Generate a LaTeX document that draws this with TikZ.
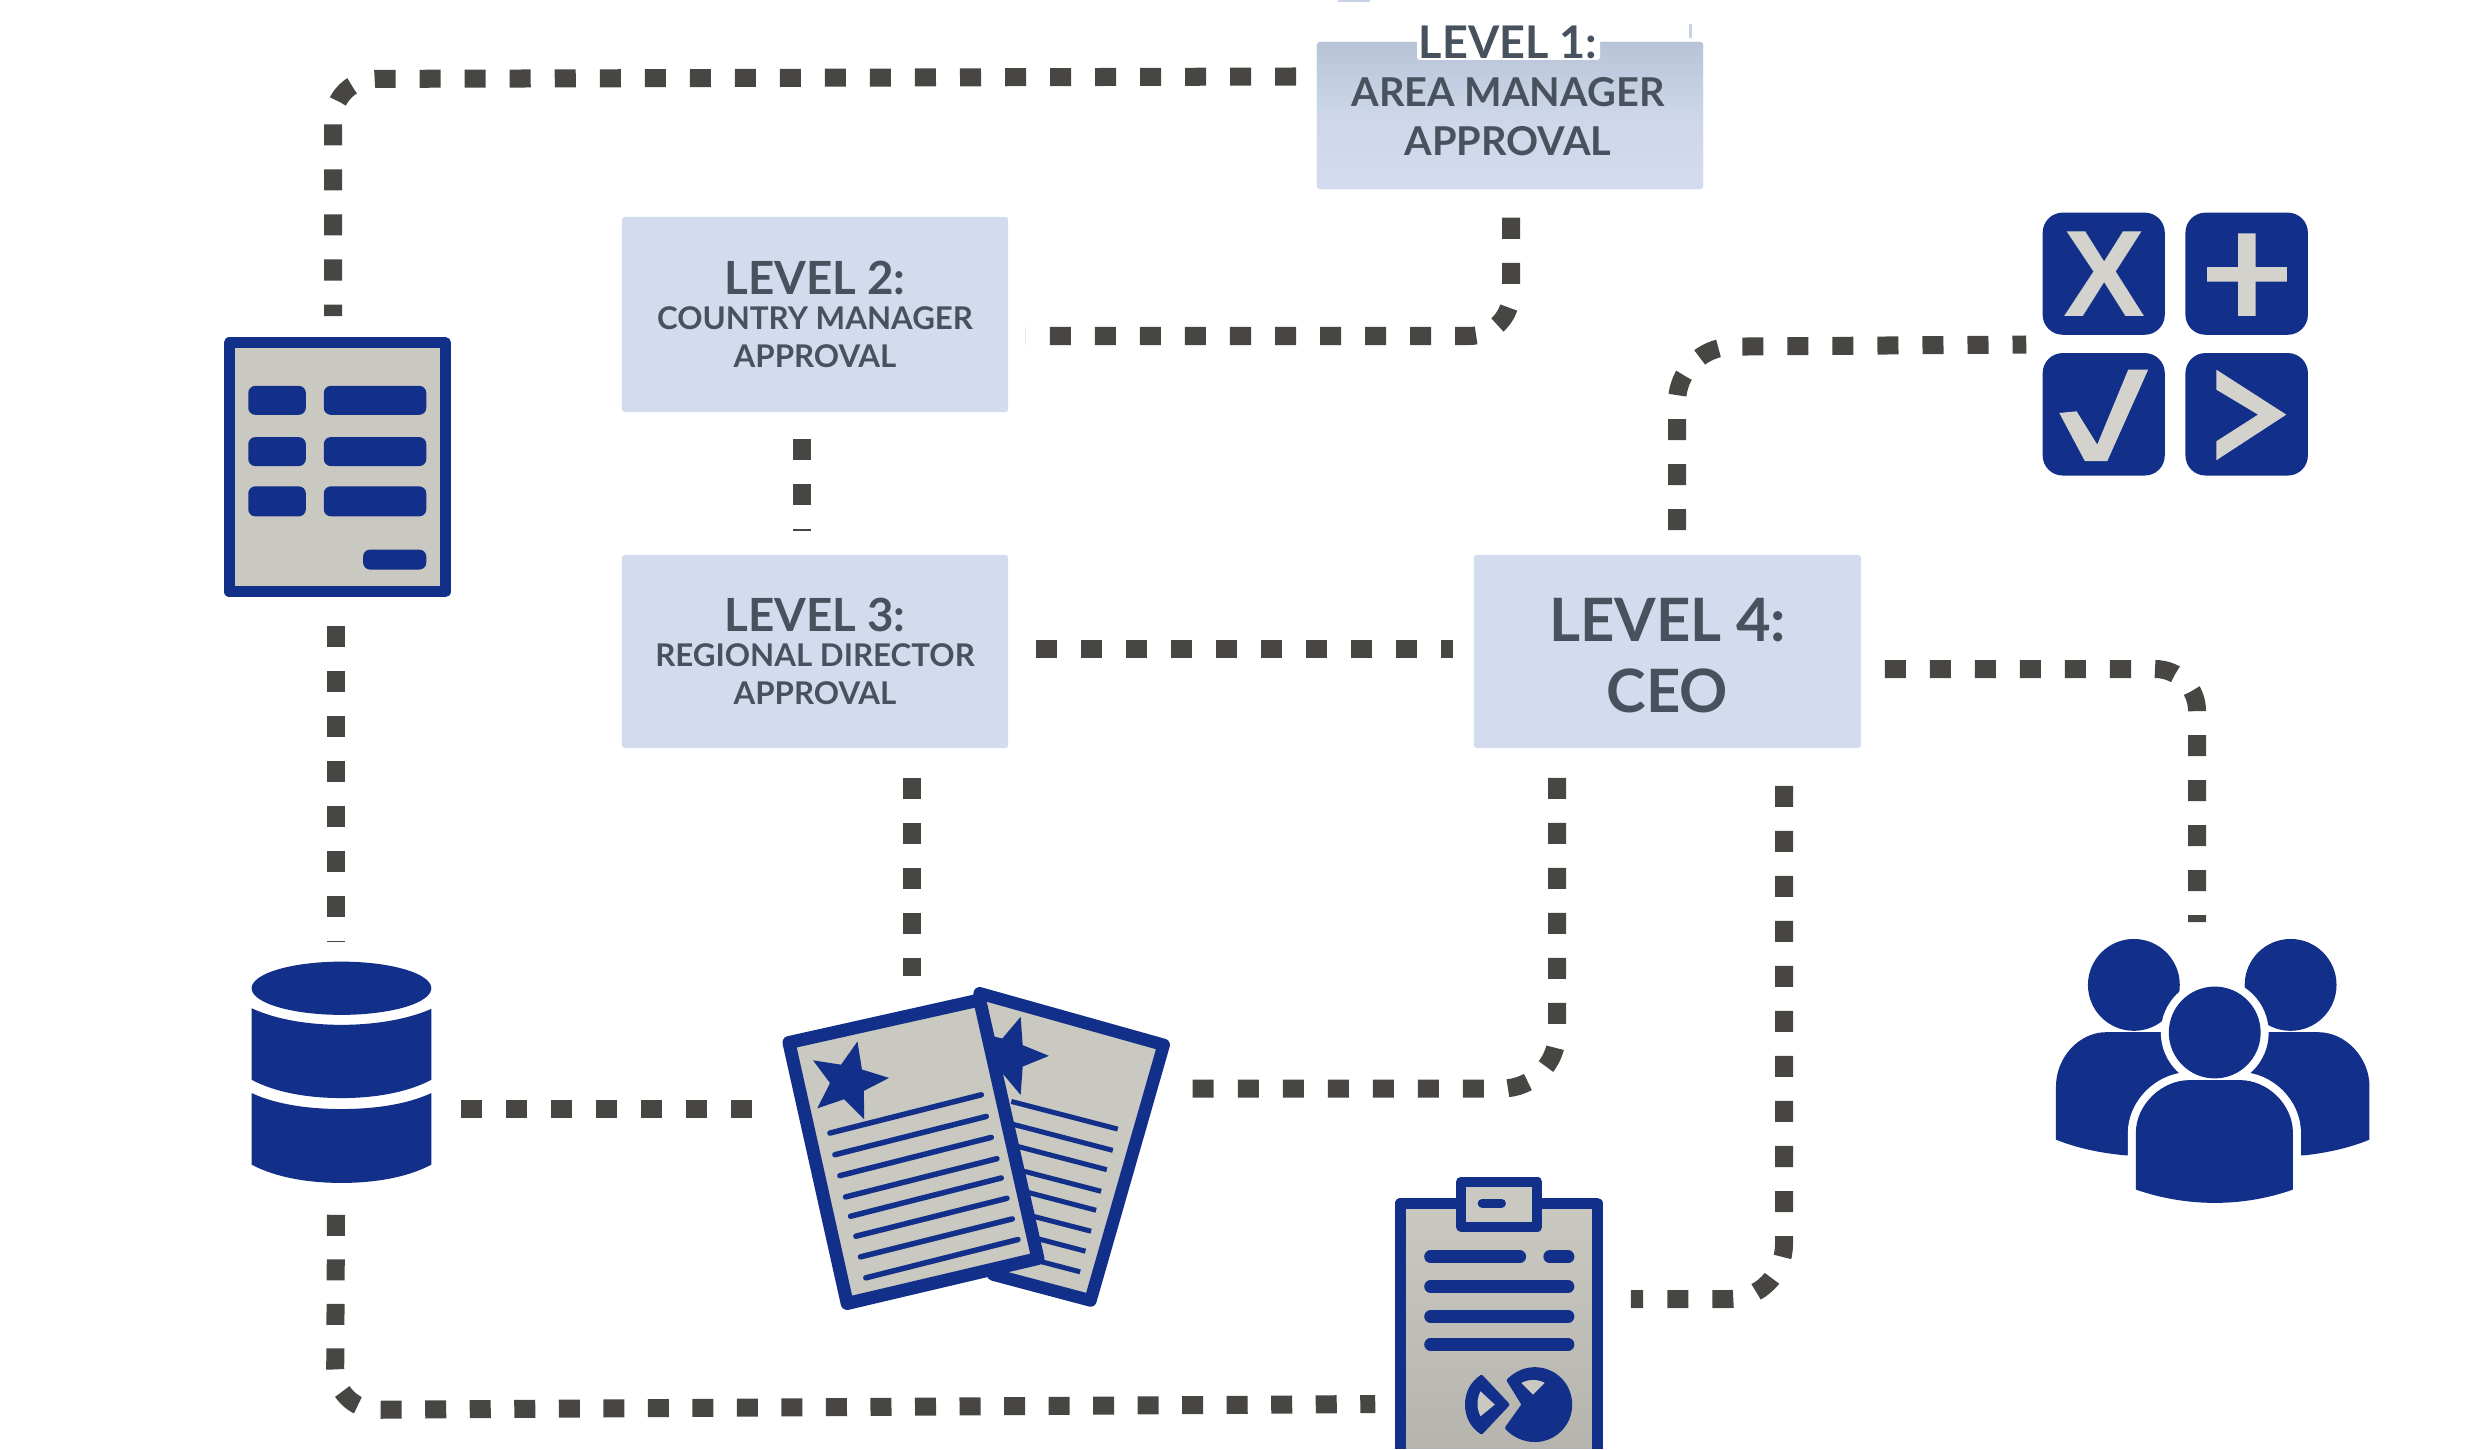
\documentclass[tikz,border=0pt]{standalone}
\usepackage{fontspec}
\setmainfont{Lato}
\newfontfamily\xfont{Liberation Sans}
\usetikzlibrary{shapes.geometric}
\definecolor{navy}{HTML}{12308A}
\definecolor{paper}{HTML}{C9C8C1}
\definecolor{boxblue}{HTML}{D2DCEE}
\definecolor{boxtop}{HTML}{B9C3D7}
\definecolor{inkgrey}{HTML}{48525F}
\definecolor{dashgrey}{HTML}{474643}
\definecolor{glyph}{HTML}{D3D2CC}
\tikzset{
  lvl/.style={rectangle,rounded corners=0.03cm,fill=boxblue,inner sep=0pt,text=inkgrey,align=center,font=\bfseries},
  hook/.style={rectangle,inner sep=0pt,draw=none},
  conn/.style={draw=dashgrey,line width=0.18cm,dash pattern=on 0.21cm off 0.24cm,rounded corners=0.42cm},
  wideturn/.style={rounded corners=0.55cm},
  pagefill/.style={fill=paper,draw=navy,line width=0.04cm,line join=round},
  bar/.style={draw=navy,line width=0.127cm,line cap=round},
  tile/.style={fill=navy,rounded corners=0.2cm},
  glyphfill/.style={fill=glyph},
  starmark/.style={star,star points=5,star point ratio=2.25,fill=navy,inner sep=0pt,minimum size=0.82cm}
}
\begin{document}
\begin{tikzpicture}[x=0.01cm,y=-0.01cm]
\useasboundingbox (0,0) rectangle (2486,1449);
% hooks for the icons
\node[hook,minimum width=2.27cm,minimum height=2.6cm] (form) at (337.5,467) {};
\node[hook,minimum width=1.8cm,minimum height=2.21cm] (db) at (342,1072.5) {};
\node[hook,minimum width=3.88cm,minimum height=3.25cm] (docs) at (977,1147.5) {};
\node[hook,minimum width=2.08cm,minimum height=2.74cm] (clipb) at (1499,1312) {};
\node[hook,minimum width=3.14cm,minimum height=2.64cm] (people) at (2213,1071) {};
\node[hook,minimum width=2.65cm,minimum height=2.63cm] (ops) at (2175.5,344.5) {};
% level boxes
\node[lvl,minimum width=3.86cm,minimum height=1.47cm,top color=boxtop,bottom color=boxblue,middle color=boxblue!80!boxtop] (l1) at (1510,115.5) {};
\fill[white,rounded corners=0.03cm] (1417,38) rectangle (1600,60);
\fill[boxblue!60!boxtop] (1689,24) rectangle (1692,38);
\fill[boxblue!60!boxtop] (1338,0) rectangle (1370,2);
\node[lvl,fill=none,anchor=center,font=\bfseries\fontsize{11.3}{14}\selectfont] (l1t) at (1508,91) {{\fontsize{12.8}{14}\selectfont LEVEL 1:}\\[-0.5pt]AREA MANAGER\\APPROVAL};
\node[lvl,minimum width=3.86cm,minimum height=1.95cm,font=\bfseries\fontsize{8.9}{10.8}\selectfont] (l2) at (815,314.5) {{\fontsize{13}{10.8}\selectfont LEVEL 2:}\\[-0.9pt]COUNTRY MANAGER\\APPROVAL};
\node[lvl,minimum width=3.86cm,minimum height=1.93cm,font=\bfseries\fontsize{8.9}{10.8}\selectfont] (l3) at (815,651.5) {{\fontsize{13}{10.8}\selectfont LEVEL 3:}\\[-0.9pt]REGIONAL DIRECTOR\\APPROVAL};
\node[lvl,minimum width=3.87cm,minimum height=1.93cm,font=\bfseries\fontsize{17}{20}\selectfont] (l4) at (1667.5,651.5) {\rule{0pt}{14.6pt}LEVEL 4:\\CEO};
% bends where a connector's two legs are not quite square
\coordinate (bend1) at (333,79);
\coordinate (bend6) at (1677,347);
\coordinate (bend12) at (335,1410);
% connectors
\draw[conn] ([shift={(-20,-39)}]l1.west) -- (bend1) -- ([shift={(-4.5,-20)}]form.north);
\draw[conn] ([shift={(1,28)}]l1.south) |- ([shift={(17,21.5)}]l2.east);
\draw[conn] ([shift={(-13,26)}]l2.south) -- ([shift={(-13,-23)}]l3.north);
\draw[conn] ([shift={(27,-2.5)}]l3.east) -- ([shift={(-20,-2.5)}]l4.west);
\draw[conn] ([shift={(97,29)}]l3.south) -- ([shift={(-65,-8)}]docs.north);
\draw[conn,wideturn] ([shift={(9.5,-24)}]l4.north) -- (bend6) -- ([shift={(-16,0)}]ops.west);
\draw[conn] ([shift={(23,17.5)}]l4.east) -| ([shift={(-16,-16)}]people.north);
\draw[conn,wideturn] ([shift={(-110.5,29)}]l4.south) |- ([shift={(18,-59)}]docs.east);
\draw[conn,wideturn] ([shift={(116.5,37)}]l4.south) |- ([shift={(27,-13)}]clipb.east);
\draw[conn] ([shift={(-1.5,28)}]form.south) -- ([shift={(-6,-19)}]db.north);
\draw[conn] ([shift={(28,36)}]db.east) -- ([shift={(-30,-39)}]docs.west);
\draw[conn,dash pattern=on 0.21cm off 0.235cm] ([shift={(-6,31)}]db.south) -- (bend12) -- ([shift={(-19,92)}]clipb.west);
% form icon (zoom coordinates)
\begin{scope}[shift={(200,310)},x=0.003333cm,y=-0.003333cm]
\draw[fill=paper,draw=navy,line width=0.11cm,line join=round] (88,98) rectangle (737,847);
\foreach \yy/\hh in {228/87,382/87,530/90}{
  \fill[navy,rounded corners=0.07cm] (145,\yy) rectangle (318,\yy+\hh);
  \fill[navy,rounded corners=0.07cm] (372,\yy) rectangle (680,\yy+\hh);
}
\fill[navy,rounded corners=0.07cm] (490,720) rectangle (680,780);
\end{scope}
% database icon
\begin{scope}[shift={(220,930)},x=0.003333cm,y=-0.003333cm]
\fill[navy] (365,175) ellipse [x radius=270,y radius=80];
\fill[navy] (95,235) .. controls (170,270) and (270,285) .. (365,285) .. controls (460,285) and (560,270) .. (635,237) -- (635,450) .. controls (560,490) and (460,505) .. (365,505) .. controls (270,505) and (170,490) .. (95,450) -- cycle;
\fill[navy] (95,490) .. controls (170,525) and (270,538) .. (365,538) .. controls (460,538) and (560,525) .. (635,490) -- (635,705) .. controls (560,745) and (460,760) .. (365,760) .. controls (270,760) and (170,745) .. (95,705) -- cycle;
\end{scope}
% documents icon
\begin{scope}[shift={(760,960)},x=0.003333cm,y=-0.003333cm]
\draw[pagefill,line width=0.125cm] (660,100) -- (1213,255) -- (993,1023) -- (700,945) -- cycle;
\node[starmark,rotate=-90] (star2) at (745,288) {};
\foreach \ax/\ay/\bx/\by in {755/425/1075/508,750/491/1060/572,762/557/1042/630,775/630/1025/695,785/693/1010/752,805/766/995/815,818/833/978/875,832/903/962/937}{
  \draw[draw=navy,line width=0.05cm] (\ax,\ay) -- (\bx,\by);
}
\draw[pagefill,line width=0.13cm] (87,248) -- (660,120) -- (835,897) -- (262,1032) -- cycle;
\node[starmark,rotate=-13] (star1) at (265,365) {};
\foreach \ax/\ay/\bx/\by in {210/520/665/405,225/585/680/470,240/648/695/533,257/712/712/597,272/770/725/655,288/830/742/716,302/892/758/778,318/955/775/840}{
  \draw[draw=navy,line width=0.055cm,line cap=round] (\ax,\ay) -- (\bx,\by);
}
\end{scope}
% clipboard icon
\begin{scope}[shift={(1360,1150)},x=0.003333cm,y=-0.003333cm]
\shade[top color=paper,middle color=paper,bottom color=paper!90!black] (121,160) rectangle (713,897);
\draw[draw=navy,line width=0.107cm,line join=round] (121,897) -- (121,160) -- (713,160) -- (713,897);
\draw[fill=paper,draw=navy,line width=0.1cm,line join=round] (303,95) rectangle (533,230);
\draw[draw=navy,line width=0.09cm,line cap=round] (367,160) -- (425,160);
\draw[bar] (212,321) -- (480,321);
\draw[bar] (570,321) -- (625,321);
\draw[bar] (212,410) -- (625,410);
\draw[bar] (212,500) -- (625,500);
\draw[bar] (212,584) -- (625,584);
\filldraw[fill=navy,draw=navy,line width=0.03cm,line join=round] (445,692) .. controls (467,670) and (495,657) .. (525,657) .. controls (585,657) and (633,705) .. (633,765) .. controls (633,825) and (585,873) .. (525,873) .. controls (495,873) and (462,860) .. (440,835) -- (490,765) -- cycle;
\fill[paper] (485,700) .. controls (505,688) and (535,688) .. (555,700) -- (520,735) -- cycle;
\filldraw[fill=navy,draw=navy,line width=0.03cm,line join=round] (365,680) .. controls (335,700) and (320,730) .. (320,765) .. controls (320,800) and (335,830) .. (365,850) -- (445,765) -- cycle;
\fill[paper] (362,725) -- (405,765) -- (362,800) .. controls (350,775) and (350,750) .. cycle;
\end{scope}
% people icon
\begin{scope}[shift={(2030,920)},x=0.003333cm,y=-0.003333cm]
\fill[navy] (312,195) circle [radius=138];
\fill[navy] (783,195) circle [radius=138];
\fill[navy] (78,660) -- (78,500) .. controls (78,415) and (145,337) .. (230,337) -- (420,337) -- (500,500) -- (500,720) -- (285,707) .. controls (210,700) and (140,685) .. (78,660) -- cycle;
\fill[navy] (1020,660) -- (1020,500) .. controls (1020,415) and (950,337) .. (865,337) -- (680,337) -- (600,500) -- (600,720) -- (825,707) .. controls (890,700) and (960,685) .. (1020,660) -- cycle;
\path[draw=white,fill=white,line width=0.16cm,line join=round] (555,338) circle [radius=138];
\path[draw=white,fill=white,line width=0.16cm,line join=round] (318,810) -- (318,640) .. controls (318,555) and (395,481) .. (480,481) -- (630,481) .. controls (715,481) and (790,555) .. (790,640) -- (790,810) .. controls (720,835) and (640,850) .. (555,850) .. controls (470,850) and (390,835) .. (318,810) -- cycle;
\fill[white] (80,725) rectangle (1020,900);
\fill[navy] (555,338) circle [radius=138];
\fill[navy] (318,810) -- (318,640) .. controls (318,555) and (395,481) .. (480,481) -- (630,481) .. controls (715,481) and (790,555) .. (790,640) -- (790,810) .. controls (720,835) and (640,850) .. (555,850) .. controls (470,850) and (390,835) .. (318,810) -- cycle;
\end{scope}
% operator tiles
\begin{scope}[shift={(2020,190)},x=0.003333cm,y=-0.003333cm]
\fill[tile] (68,68) rectangle (435,435);
\fill[tile] (497,68) rectangle (865,435);
\fill[tile] (68,490) rectangle (435,858);
\fill[tile] (497,490) rectangle (865,858);
\node[text=glyph,inner sep=0pt,font=\xfont\bfseries\fontsize{35}{35}\selectfont] (xglyph) at (255,252) {X};
\fill[glyphfill] (655,130) -- (708,130) -- (708,232) -- (802,232) -- (802,275) -- (708,275) -- (708,378) -- (655,378) -- (655,275) -- (562,275) -- (562,232) -- (655,232) -- cycle;
\fill[glyphfill] (118,670) -- (170,665) -- (232,765) -- (325,540) -- (385,540) -- (262,815) -- (195,815) -- cycle;
\fill[glyphfill] (590,540) -- (800,675) -- (590,812) -- (590,755) -- (715,675) -- (590,600) -- cycle;
\end{scope}
\end{tikzpicture}
\end{document}
